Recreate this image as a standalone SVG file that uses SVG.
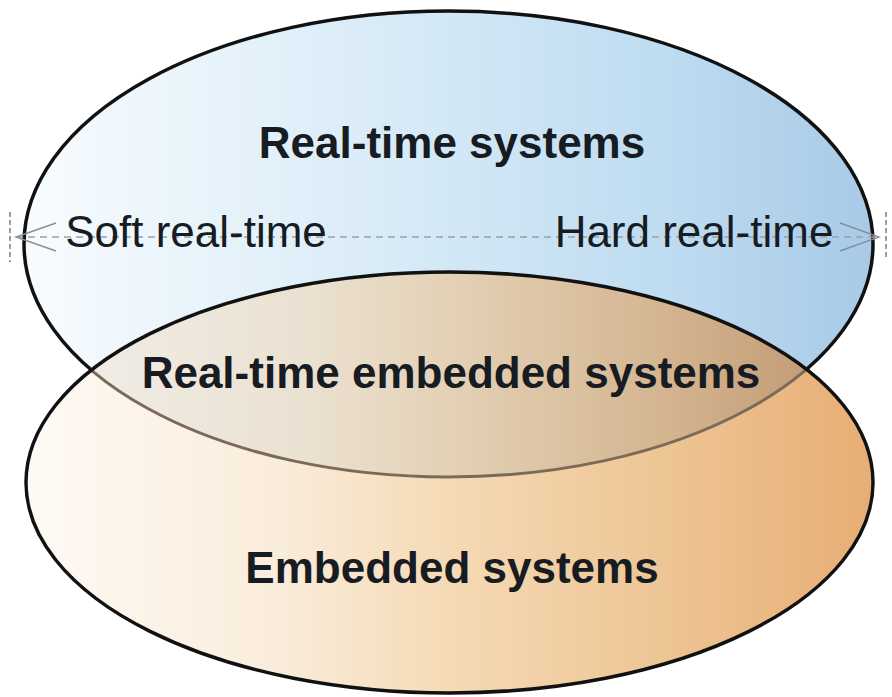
<svg xmlns="http://www.w3.org/2000/svg" width="892" height="697" viewBox="0 0 892 697">
  <defs>
    <linearGradient id="gradBlue" gradientUnits="userSpaceOnUse" x1="24" y1="0" x2="873" y2="0">
      <stop offset="0" stop-color="#f8fcff"/>
      <stop offset="0.2" stop-color="#e9f4fb"/>
      <stop offset="0.5" stop-color="#d3e8f6"/>
      <stop offset="0.75" stop-color="#bfdcf1"/>
      <stop offset="1" stop-color="#a8cae7"/>
    </linearGradient>
    <linearGradient id="gradOrange" gradientUnits="userSpaceOnUse" x1="26" y1="0" x2="873" y2="0">
      <stop offset="0" stop-color="#fefaf5"/>
      <stop offset="0.3" stop-color="#faecdb"/>
      <stop offset="0.5" stop-color="#f5dab5"/>
      <stop offset="0.75" stop-color="#eec595"/>
      <stop offset="1" stop-color="#e7ae74"/>
    </linearGradient>
    <linearGradient id="gradOverlap" gradientUnits="userSpaceOnUse" x1="94" y1="0" x2="807" y2="0">
      <stop offset="0" stop-color="#f0ece5"/>
      <stop offset="0.3" stop-color="#ebe1d1"/>
      <stop offset="0.5" stop-color="#e4d1b6"/>
      <stop offset="0.8" stop-color="#d4b590"/>
      <stop offset="1" stop-color="#c39d77"/>
    </linearGradient>
    <clipPath id="clipEmbedded">
      <ellipse cx="449.5" cy="482.5" rx="423.5" ry="210.5"/>
    </clipPath>
    <style>
      .outline { fill: none; stroke: #111; stroke-width: 3.5; }
      .label { font-family: "Liberation Sans", Arial, sans-serif; font-size: 44px; fill: #171b22; text-anchor: middle; }
      .bold { font-weight: bold; }
      .scale { stroke: #9aa0a6; stroke-width: 1.6; stroke-dasharray: 7 5; fill: none; }
      .head { stroke: #8a8f96; stroke-width: 1.4; fill: none; }
      .tick { stroke: #6d7278; stroke-width: 1.4; stroke-dasharray: 5 3; fill: none; }
    </style>
  </defs>

  <rect width="892" height="697" fill="#ffffff"/>

  <!-- Real-time systems set -->
  <g id="realtime-systems">
    <ellipse cx="448.5" cy="244" rx="424.5" ry="233" class="outline" style="fill:url(#gradBlue)"/>
  </g>

  <!-- Embedded systems set, with the shared region tinted -->
  <g id="embedded-systems">
    <ellipse cx="449.5" cy="482.5" rx="423.5" ry="210.5" fill="url(#gradOrange)"/>
    <g clip-path="url(#clipEmbedded)">
      <ellipse cx="448.5" cy="244" rx="424.5" ry="233" fill="url(#gradOverlap)"/>
      <ellipse cx="448.5" cy="244" rx="424.5" ry="233" fill="none" stroke="#7b6a57" stroke-width="3"/>
    </g>
    <ellipse cx="449.5" cy="482.5" rx="423.5" ry="210.5" class="outline"/>
  </g>

  <!-- Soft/hard real-time scale -->
  <g id="connectors">
    <line class="scale" x1="16" y1="237" x2="879" y2="237"/>
    <path class="head" d="M56,223 L16,237 L56,251"/>
    <path class="head" d="M840,223 L879,237 L840,251"/>
    <line class="tick" x1="10" y1="212" x2="10" y2="262"/>
    <line class="tick" x1="886" y1="212" x2="886" y2="258"/>
  </g>

  <g id="label-realtime">
    <text class="label bold" x="452" y="158">Real-time systems</text>
  </g>
  <g id="label-soft">
    <text class="label" x="196" y="247">Soft real-time</text>
  </g>
  <g id="label-hard">
    <text class="label" x="694" y="247">Hard real-time</text>
  </g>
  <g id="label-overlap">
    <text class="label bold" x="451" y="388">Real-time embedded systems</text>
  </g>
  <g id="label-embedded">
    <text class="label bold" x="452" y="583">Embedded systems</text>
  </g>
</svg>
